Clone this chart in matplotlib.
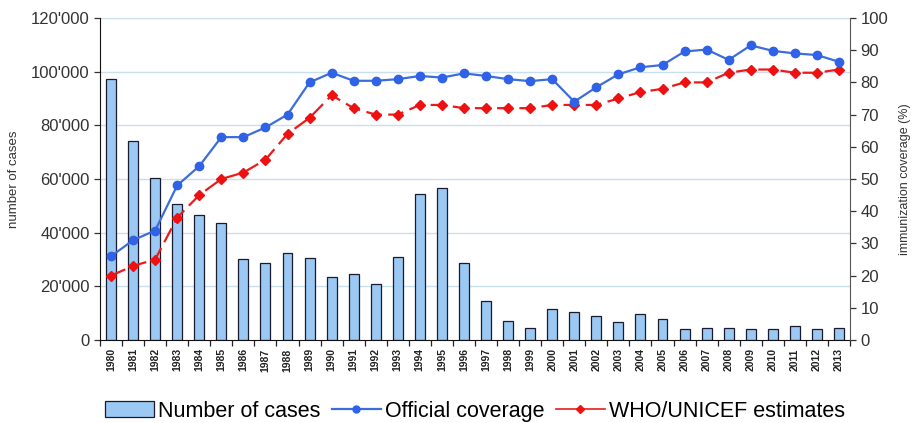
import matplotlib
matplotlib.use("Agg")
import matplotlib.pyplot as plt
from matplotlib.ticker import FuncFormatter, FixedLocator
from matplotlib.lines import Line2D
from matplotlib.patches import Patch

years = [str(y) for y in range(1980, 2014)]
cases = [97100, 74200, 60500, 50700, 46600, 43700, 30100, 28800, 32300, 30400,
         23600, 24500, 20800, 31000, 54300, 56500, 28600, 14700, 7200, 4600,
         11400, 10400, 8800, 6800, 9700, 7800, 4000, 4300, 4600, 4200,
         4200, 5200, 4200, 4600]
official = [26, 31, 34, 48, 54, 63, 63, 66, 70, 80,
            83, 80.5, 80.5, 81, 82, 81.5, 82.8, 82, 81, 80.4,
            81, 74, 78.5, 82.5, 84.7, 85.4, 89.6, 90.2, 87, 91.5,
            89.8, 89, 88.5, 86.4]
who_unicef = [20, 23, 25, 38, 45, 50, 52, 56, 64, 69,
              76, 72, 70, 70, 73, 73, 72, 72, 72, 72,
              73, 73, 73, 75, 77, 78, 80, 80, 83, 84,
              84, 83, 83, 84]

plt.rcParams['font.family'] = ['Liberation Sans', 'DejaVu Sans']

fig = plt.figure(figsize=(9.15, 4.23), dpi=100)
ax = fig.add_axes([100/915, 1-340/423, 750/915, 322/423])
x = list(range(len(years)))

ax.bar(x, cases, width=0.45, color='#9cc9f3', edgecolor='#1a1a2e', linewidth=0.9, zorder=2)
ax.set_ylim(0, 120000)
ax.set_xlim(-0.5, len(years) - 0.5)
ax.set_yticks(range(0, 120001, 20000))
ax.yaxis.set_major_formatter(FuncFormatter(lambda v, p: "0" if v == 0 else f"{int(v):,}".replace(",", "'")))
for g in range(20000, 120001, 20000):
    ax.axhline(g, color='#c9dfec', linewidth=1.0, zorder=0)
ax.set_xticks(x)
ax.set_xticklabels(years, rotation=90, fontsize=7.5, fontweight='bold', color='#222222')
ax.tick_params(axis='x', length=0, pad=6)
ax.xaxis.set_minor_locator(FixedLocator([i - 0.5 for i in range(len(years) + 1)]))
ax.tick_params(axis='x', which='minor', length=4, width=0.9, color='#222222', direction='out')
ax.tick_params(axis='y', labelsize=12, colors='#333333', length=4, width=0.9)
ax.set_ylabel('number of cases', fontsize=9.5, color='#333333', labelpad=8)
ax.spines['top'].set_visible(False)
ax.spines['right'].set_visible(False)
ax.spines['left'].set_color('#111111')
ax.spines['bottom'].set_color('#111111')

ax2 = ax.twinx()
ax2.plot(x, official, color='#3d6ddb', linewidth=1.6, marker='o', markersize=6,
         markerfacecolor='#2f62e6', markeredgecolor='#2f62e6', zorder=4)
ax2.plot(x, who_unicef, color='#ea1b1b', linewidth=1.6, linestyle=(0, (7, 3)), marker='D', markersize=5,
         markerfacecolor='#ee1111', markeredgecolor='#ee1111', zorder=3)
ax2.set_ylim(0, 100)
ax2.set_yticks(range(0, 101, 10))
ax2.tick_params(axis='y', labelsize=12, colors='#333333', length=4, width=0.9)
ax2.set_ylabel('immunization coverage (%)', fontsize=9, color='#333333', labelpad=8)
ax2.spines['top'].set_visible(False)
ax2.spines['left'].set_visible(False)
ax2.spines['bottom'].set_visible(False)
ax2.spines['right'].set_color('#555555')

handles = [Patch(facecolor='#9cc9f3', edgecolor='#1a1a2e', linewidth=0.9),
           Line2D([], [], color='#3d6ddb', linewidth=1.6, marker='o', markersize=5,
                  markerfacecolor='#2f62e6', markeredgecolor='#2f62e6'),
           Line2D([], [], color='#ea1b1b', linewidth=1.2, linestyle='-', marker='D', markersize=4,
                  markerfacecolor='#ee1111', markeredgecolor='#ee1111')]
labels = ['Number of cases', 'Official coverage', 'WHO/UNICEF estimates']
fig.legend(handles, labels, loc='center', bbox_to_anchor=(475/915, 1-411/423), ncol=3,
           frameon=False, fontsize=15.5, handlelength=2.3, handletextpad=0.2, columnspacing=0.5)

fig.savefig('out.png', dpi=100)
